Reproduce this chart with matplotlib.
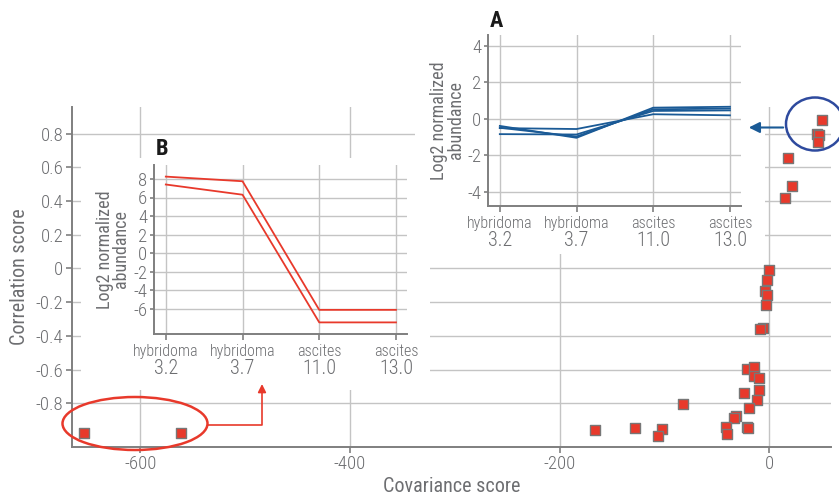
import matplotlib
matplotlib.use("Agg")
import matplotlib.pyplot as plt
from matplotlib.patches import Ellipse, Rectangle, FancyArrowPatch
from matplotlib.path import Path

plt.rcParams["font.family"] = ["Roboto Condensed", "DejaVu Sans"]
plt.rcParams["font.weight"] = "light"
plt.rcParams["axes.unicode_minus"] = False

# ---------------------------------------------------------------------------
# Data
# ---------------------------------------------------------------------------
covariance = [50.0, 45.8, 47.1, 46.2, 17.6, 21.7, 14.7, 0.0, -2.2, -3.8,
              -1.9, -2.9, -5.7, -9.2, -21.3, -14.3, -14.6, -9.8, -24.4, -10.1,
              -11.7, -19.7, -31.8, -33.4, -41.0, -40.6, -21.3, -20.6, -82.6,
              -102.7, -105.9, -127.9, -166.3, -653.4, -561.6]
correlation = [0.881, 0.798, 0.792, 0.752, 0.655, 0.490, 0.417, -0.010, -0.070,
               -0.135, -0.159, -0.219, -0.351, -0.359, -0.596, -0.585, -0.636,
               -0.653, -0.739, -0.721, -0.782, -0.826, -0.874, -0.887, -0.941,
               -0.985, -0.939, -0.945, -0.802, -0.953, -0.996, -0.947, -0.959,
               -0.974, -0.975]

main_xticks = [-600, -400, -200, 0]
main_xlabels = ["-600", "-400", "-200", "0"]
main_yticks = [0.8, 0.6, 0.4, 0.2, 0, -0.2, -0.4, -0.6, -0.8]
main_ylabels = ["0.8", "0.6", "0.4", "0.2", "0", "-0.2", "-0.4", "-0.6", "-0.8"]

conditions = ["hybridoma", "hybridoma", "ascites", "ascites"]
ph_values = ["3.2", "3.7", "11.0", "13.0"]

# inset A: four proteins (blue), inset B: two proteins (red)
profiles_a = [
    [-0.38, -1.03, 0.62, 0.67],
    [-0.48, -0.96, 0.53, 0.57],
    [-0.83, -0.85, 0.44, 0.47],
    [-0.50, -0.55, 0.26, 0.20],
]
profiles_b = [
    [8.25, 7.75, -6.1, -6.1],
    [7.40, 6.30, -7.45, -7.45],
]
yticks_a = [4, 2, 0, -2, -4]
yticks_b = [8, 6, 4, 2, 0, -2, -4, -6]

# ---------------------------------------------------------------------------
# Style
# ---------------------------------------------------------------------------
W, H = 839, 495
TEXT = "#6d6e71"
SPINE = "#7f7f7f"
GRID = "#c4c4c4"
RED = "#e8392b"
BLUE = "#1a5a96"
RING_BLUE = "#2e4a9e"


def px(x0, y0, x1, y1):
    """Pixel box (top-left origin) -> figure-fraction rect."""
    return [x0 / W, 1 - y1 / H, (x1 - x0) / W, (y1 - y0) / H]


def style_axes(ax):
    for side in ("top", "right"):
        ax.spines[side].set_visible(False)
    for side in ("left", "bottom"):
        ax.spines[side].set_color(SPINE)
        ax.spines[side].set_linewidth(1.4)
    ax.grid(True, color=GRID, linewidth=1.0)
    ax.set_axisbelow(True)
    ax.tick_params(which="both", colors=SPINE, labelcolor=TEXT, width=1.2)


def draw_inset(fig, rect, profiles, color, yticks, ylim):
    ax = fig.add_axes(rect, zorder=3)
    ax.patch.set_alpha(0)
    style_axes(ax)
    for p in profiles:
        ax.plot(range(len(p)), p, color=color, linewidth=1.3, zorder=3)
    ax.set_xlim(-0.15, 3.14)
    ax.set_ylim(*ylim)
    ax.set_yticks(yticks)
    ax.set_yticklabels([str(v) for v in yticks])
    ax.tick_params(axis="y", labelsize=13.5, length=3, pad=2)

    # two-row category labels: condition word + pH number
    ax.xaxis.remove_overlapping_locs = False
    ax.set_xticks(range(4))
    ax.set_xticklabels(conditions)
    ax.set_xticks(range(4), minor=True)
    ax.set_xticklabels(ph_values, minor=True)
    ax.grid(False, which="minor")
    ax.tick_params(axis="x", which="major", labelsize=11.5, length=4.5, pad=3)
    ax.tick_params(axis="x", which="minor", labelsize=14.5, length=0, pad=18)
    ax.set_ylabel("Log2 normalized\nabundance", fontsize=13, color=TEXT,
                  linespacing=0.9, labelpad=2)
    return ax


fig = plt.figure(figsize=(W / 100, H / 100), dpi=100)

# ---------------------------------------------------------------------------
# Main scatter
# ---------------------------------------------------------------------------
ax = fig.add_axes(px(71.7, 107.3, 831, 446.7), zorder=0)
style_axes(ax)
ax.scatter(covariance, correlation, marker="s", s=55, color=RED,
           edgecolors="#777777", linewidths=1.0, zorder=3, clip_on=False)
ax.set_xlim(-665.6, 58.9)
ax.set_ylim(-1.058, 0.956)
ax.set_xticks(main_xticks)
ax.set_xticklabels(main_xlabels)
ax.set_yticks(main_yticks)
ax.set_yticklabels(main_ylabels)
ax.tick_params(labelsize=13.5, length=4, pad=2)
ax.set_xlabel("Covariance score", fontsize=14.5, color=TEXT, labelpad=3)
ax.set_ylabel("Correlation score", fontsize=14.5, color=TEXT, labelpad=5)

# white panels behind the insets
for box in (px(81, 158, 430, 390), px(415, 0, 765, 254)):
    fig.add_artist(Rectangle((box[0], box[1]), box[2], box[3],
                             transform=fig.transFigure, facecolor="white",
                             edgecolor="none", zorder=1))

# ---------------------------------------------------------------------------
# Insets
# ---------------------------------------------------------------------------
ax_a = draw_inset(fig, px(488.3, 35, 740.7, 205.7), profiles_a, BLUE,
                  yticks_a, (-4.75, 4.6))
ax_b = draw_inset(fig, px(154.3, 165, 406.7, 334), profiles_b, RED,
                  yticks_b, (-8.7, 9.5))

fig.text(490 / W, 1 - 21 / H, "A", fontsize=16, fontweight="bold",
         color="#1a1a1a", va="center", ha="left")
fig.text(156 / W, 1 - 149 / H, "B", fontsize=16, fontweight="bold",
         color="#1a1a1a", va="center", ha="left")

# ---------------------------------------------------------------------------
# Callout rings and arrows
# ---------------------------------------------------------------------------
fig.add_artist(Ellipse((815 / W, 1 - 124 / H), 58 / W, 53 / H,
                       transform=fig.transFigure, fill=False,
                       edgecolor=RING_BLUE, linewidth=1.8, zorder=4))
fig.add_artist(FancyArrowPatch((786 / W, 1 - 127.5 / H), (746 / W, 1 - 127.5 / H),
                               transform=fig.transFigure, arrowstyle="-|>",
                               mutation_scale=16, color=BLUE, linewidth=1.5,
                               zorder=4))

fig.add_artist(Ellipse((135 / W, 1 - 423.5 / H), 145 / W, 53 / H,
                       transform=fig.transFigure, fill=False,
                       edgecolor=RED, linewidth=1.8, zorder=4))
elbow = Path([(207.5 / W, 1 - 425 / H), (262 / W, 1 - 425 / H), (262 / W, 1 - 384 / H)],
             [Path.MOVETO, Path.LINETO, Path.LINETO])
fig.add_artist(FancyArrowPatch(path=elbow, transform=fig.transFigure,
                               arrowstyle="-|>", mutation_scale=12, color=RED,
                               linewidth=1.2, zorder=4))

fig.savefig("out.png", dpi=100)
